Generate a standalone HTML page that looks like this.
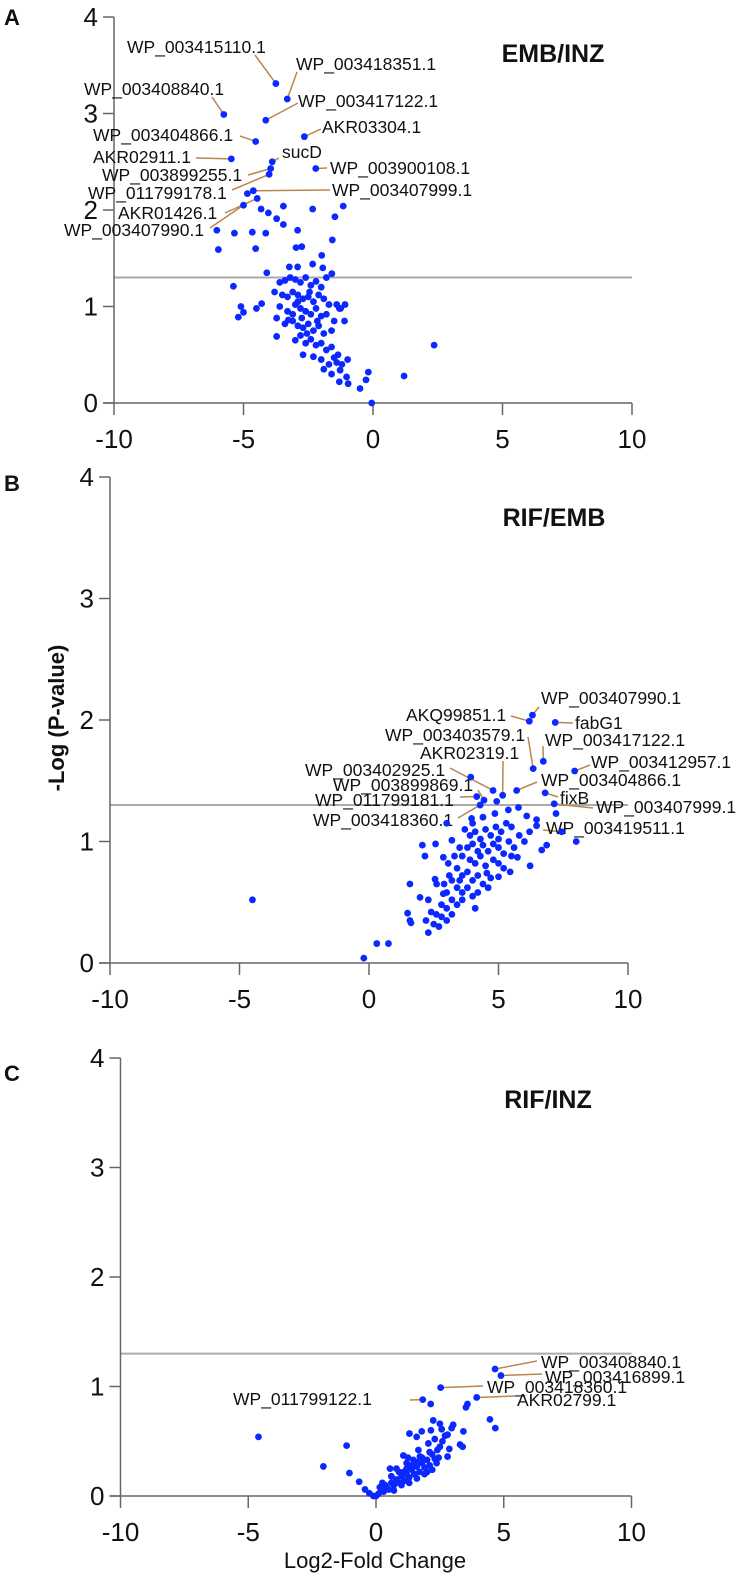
<!DOCTYPE html>
<html><head><meta charset="utf-8"><style>
html,body{margin:0;padding:0;background:#fff;}
svg{display:block;font-family:"Liberation Sans",Arial,sans-serif;}
</style></head><body>
<svg id="fig" width="741" height="1575" viewBox="0 0 741 1575" xmlns="http://www.w3.org/2000/svg"></svg>
<script>
// ---- data (log2 fold change, -log p) ----
const xTicks = [-10, -5, 0, 5, 10];
const yTicks = [0, 1, 2, 3, 4];
const threshold = 1.3;

const aX = [-3.75,-3.31,-5.76,-4.14,-4.53,-2.65,-5.47,-3.89,-2.21,-3.95,-4.62,-4.01,-4.47,-5.0,
 -4.85,-4.32,-4.04,-3.72,-3.46,-3.46,-2.33,-1.15,-1.47,-6.03,-5.35,-4.66,-4.14,-2.91,-5.97,-4.53,-2.97,-2.75,-1.57,-1.98,-2.33,-1.94,-3.23,-2.91,-1.59,-4.10,-5.39,-5.1,-5.0,-5.2,-4.5,-4.3,-3.72,-3.72,-3.27,
 -0.98,-1.27,-1.02,-0.96,-1.3,-0.50,-0.27,-0.18,-0.05,2.36,1.2,
 -3.6,-3.4,-3.2,-3.0,-2.8,-2.6,-2.4,-2.2,-2.0,-1.8,-3.8,-3.5,-3.3,-3.1,-2.9,-2.7,-2.5,-2.3,-2.1,-1.9,-1.7,-1.4,-1.3,-3.6,-3.3,-3.0,-2.8,-2.6,-2.4,-2.2,-2.0,-1.8,-1.5,-3.4,-3.1,-2.9,-2.7,-2.5,-2.3,-2.1,-1.9,-1.6,-3.0,-2.8,-2.6,-2.4,-2.2,-2.0,-1.8,-1.6,-2.7,-2.3,-2.0,-1.7,-1.5,-1.4,-1.9,-1.6,-2.9,-2.75,-2.45,-2.15,-3.1,-2.55,-1.35,-1.2,-1.08,-1.25,-1.1];
const aY = [3.31,3.15,2.99,2.93,2.71,2.76,2.53,2.50,2.43,2.43,2.20,2.37,2.12,2.05,
 2.17,2.01,1.97,1.91,2.04,1.85,2.01,2.04,1.93,1.79,1.76,1.77,1.76,1.79,1.59,1.60,1.61,1.62,1.69,1.53,1.44,1.40,1.41,1.41,1.34,1.35,1.21,1.0,0.94,0.89,0.98,1.03,0.88,0.69,0.86,
 0.45,0.34,0.27,0.20,0.22,0.15,0.24,0.32,0.0,0.60,0.28,
 1.25,1.27,1.30,1.28,1.25,1.30,1.22,1.26,1.20,1.30,1.15,1.12,1.10,1.15,1.12,1.08,1.10,1.05,1.12,1.08,1.02,1.02,0.98,1.0,0.95,1.02,0.98,0.95,0.92,0.98,0.90,0.92,0.85,0.82,0.85,0.80,0.78,0.82,0.75,0.80,0.72,0.75,0.65,0.70,0.62,0.66,0.60,0.62,0.55,0.58,0.50,0.48,0.45,0.40,0.47,0.42,0.35,0.30,1.05,0.88,1.15,0.85,0.92,0.72,0.50,0.40,1.02,0.98,0.85];
const aNames = ["WP_003415110.1","WP_003418351.1","WP_003408840.1","WP_003417122.1","WP_003404866.1","AKR03304.1","AKR02911.1","sucD","WP_003900108.1","WP_003899255.1","WP_003407999.1","WP_011799178.1","AKR01426.1","WP_003407990.1"];

const bX = [6.31,6.19,7.19,6.34,6.73,5.16,7.94,4.79,5.70,4.44,6.80,4.16,7.15,4.29,7.44,
 3.93,4.93,7.22,3.0,3.96,4.86,5.38,5.77,6.09,6.47,6.47,8.0,6.86,6.67,6.22,5.73,5.45,5.0,4.55,2.06,2.57,2.16,3.2,2.87,3.06,1.58,2.55,2.61,1.97,2.29,2.87,2.29,1.49,1.58,1.62,0.30,0.75,-0.2,-4.5,
 3.9,4.1,4.3,4.5,4.7,4.9,5.1,5.3,5.5,3.8,4.0,4.2,4.4,4.6,4.8,5.0,5.2,5.4,5.6,3.6,3.9,4.1,4.3,4.5,4.8,5.0,5.2,3.4,3.6,3.8,4.0,4.2,4.4,4.7,3.2,3.4,3.6,3.8,4.0,4.2,3.0,3.2,3.4,3.6,2.8,3.0,3.2,2.6,2.8,2.5,2.7,2.4,3.0,2.2,3.3,3.5,3.7,4.0,4.4,5.0,5.8,6.0,6.2,3.1,2.9,3.5,4.6,5.5,4.1];
const bY = [2.04,1.99,1.98,1.60,1.66,1.38,1.58,1.42,1.42,1.34,1.40,1.37,1.31,1.30,1.08,
 1.53,1.33,1.23,1.15,1.19,1.23,1.26,1.28,1.21,1.18,1.13,1.0,0.97,0.93,0.80,0.87,0.75,0.71,0.74,0.97,0.98,0.88,1.01,0.87,0.82,0.65,0.69,0.65,0.54,0.52,0.57,0.25,0.41,0.35,0.33,0.16,0.16,0.04,0.52,
 1.05,1.08,1.02,1.10,1.05,1.12,1.08,1.15,1.12,0.95,0.98,0.92,0.97,0.92,0.98,0.95,0.90,1.0,0.95,0.88,0.85,0.82,0.88,0.80,0.85,0.82,0.78,0.78,0.72,0.75,0.68,0.72,0.65,0.70,0.68,0.62,0.58,0.62,0.55,0.58,0.58,0.52,0.48,0.52,0.48,0.45,0.40,0.40,0.38,0.32,0.30,0.42,0.35,0.35,0.88,0.95,1.10,1.15,1.20,1.02,1.05,1.0,1.08,0.72,0.65,0.68,0.62,0.88,0.45];
const bNames = ["WP_003407990.1","AKQ99851.1","fabG1","WP_003403579.1","WP_003417122.1","AKR02319.1","WP_003412957.1","WP_003402925.1","WP_003404866.1","WP_003899869.1","fixB","WP_011799181.1","WP_003407999.1","WP_003418360.1","WP_003419511.1"];

const cX = [4.66,4.89,2.53,3.94,1.83,
 2.14,3.58,3.52,4.46,4.67,-4.6,-1.15,-2.06,-1.04,-0.66,-0.43,-0.26,-0.1,0.0,2.24,2.50,3.02,2.96,3.42,2.57,2.15,2.80,1.79,1.31,1.59,3.29,3.39,2.87,2.80,2.37,1.07,1.66,2.05,0.55,1.72,1.46,1.2,
 0.1,0.2,0.3,0.4,0.5,0.6,0.7,0.8,0.9,1.0,1.1,1.2,1.3,1.4,1.5,1.6,1.7,1.8,1.9,2.0,2.1,2.2,2.3,2.4,0.6,0.9,1.2,1.5,1.8,2.1,1.0,1.3,1.6,1.9,2.2,0.7,1.1,1.4,1.7,2.0,2.5,2.6,2.3,0.35,0.25,0.15,0.8,1.25,2.7,2.45];
const cY = [1.16,1.10,0.99,0.90,0.88,
 0.84,0.84,0.81,0.70,0.62,0.54,0.46,0.27,0.21,0.13,0.06,0.025,0.0,0.0,0.69,0.66,0.65,0.62,0.59,0.61,0.60,0.56,0.59,0.57,0.54,0.47,0.45,0.43,0.36,0.30,0.37,0.42,0.48,0.25,0.36,0.33,0.30,
 0.02,0.05,0.04,0.08,0.06,0.12,0.10,0.15,0.12,0.18,0.14,0.20,0.17,0.24,0.20,0.27,0.22,0.30,0.26,0.33,0.28,0.38,0.34,0.42,0.18,0.22,0.25,0.30,0.35,0.40,0.10,0.12,0.16,0.20,0.24,0.05,0.22,0.28,0.32,0.22,0.45,0.50,0.52,0.10,0.12,0.08,0.25,0.35,0.55,0.35];
const cNames = ["WP_003408840.1","WP_003416899.1","WP_003418360.1","AKR02799.1","WP_011799122.1"];

// ---- layout ----
const NS = "http://www.w3.org/2000/svg";
const svg = document.getElementById('fig');
function mk(tag, attrs, parent, text){
  const e = document.createElementNS(NS, tag);
  for (const k in attrs) e.setAttribute(k, attrs[k]);
  if (text !== undefined) e.textContent = text;
  (parent || svg).appendChild(e);
  return e;
}
const panels = [
  {id:'a', letter:'A', letterY:17, title:'EMB/INZ', titleX:553, titleY:53, x0:373, sx:25.9, y0:403, sy:96.5, xs:aX, ys:aY, names:aNames,
   lab:[[127,47,255,55],[296,64,297,72],[84,89,212,97],[298,101,298,103],[93,135,240,136],[322,127,321,129],[93,157,196,158],[282,152,279,158],[330,168,327,168],[102,175,248,175],[332,190,330,190],[88,193,232,190],[118,213,225,213],[64,230,210,228]]},
  {id:'b', letter:'B', letterY:483, title:'RIF/EMB', titleX:554, titleY:517, x0:369, sx:25.9, y0:963, sy:121.5, xs:bX, ys:bY, names:bNames,
   lab:[[541,698,539,707],[406,715,511,716],[575,723,573,723],[385,735,528,737],[545,740,543,746],[420,753,503,761],[591,762,590,765],[305,770,450,768],[541,780,537,782],[333,785,478,790],[560,798,558,797],[315,800,460,797],[596,807,593,808],[313,820,458,818],[546,828,543,830]]},
  {id:'c', letter:'C', letterY:1073, title:'RIF/INZ', titleX:548, titleY:1099, x0:376, sx:25.55, y0:1496, sy:109.5, xs:cX, ys:cY, names:cNames,
   lab:[[541,1362,537,1361],[545,1377,542,1374],[487,1387,483,1386],[517,1400,515,1396],[233,1399,410,1400]]}
];

panels.forEach(p => {
  const X = v => p.x0 + v * p.sx;
  const Y = v => p.y0 - v * p.sy;
  const g = mk('g', {});
  
  

  const lt = mk('text', {x:4, y:p.letterY+8, 'font-size':22, 'font-weight':'bold', fill:'#111'}, g, p.letter);
  
  

  const tt = mk('text', {x:p.titleX, y:p.titleY+9, 'font-size':25, 'font-weight':'bold', 'text-anchor':'middle', fill:'#111'}, g, p.title);
  
  

  // threshold line
  const th = mk('line', {x1:X(-10), x2:X(10), y1:Y(threshold), y2:Y(threshold), stroke:'#aaa', 'stroke-width':2}, g);
  
  

  // axes
  const ya = mk('line', {x1:X(-10), x2:X(-10), y1:Y(4), y2:Y(0), stroke:'#666', 'stroke-width':1.5}, g);
  
  
  const xa = mk('line', {x1:X(-10)-11, x2:X(10), y1:Y(0), y2:Y(0), stroke:'#666', 'stroke-width':1.5}, g);
  
  

  yTicks.forEach(t => {
    mk('line', {x1:X(-10)-11, x2:X(-10), y1:Y(t), y2:Y(t), stroke:'#666', 'stroke-width':1.5}, g);
    const tl = mk('text', {x:X(-10)-16, y:Y(t)+9, 'font-size':26, 'text-anchor':'end', fill:'#111'}, g, String(t));
    
    
  });
  xTicks.forEach(t => {
    mk('line', {x1:X(t), x2:X(t), y1:Y(0), y2:Y(0)+12, stroke:'#666', 'stroke-width':1.5}, g);
    const tl = mk('text', {x:X(t), y:Y(0)+45, 'font-size':26, 'text-anchor':'middle', fill:'#111'}, g, String(t));
    
    
  });

  // leader lines + labels
  p.lab.forEach((L, i) => {
    const ln = mk('line', {x1:L[2], y1:L[3], x2:X(p.xs[i]), y2:Y(p.ys[i]), stroke:'#b8864e', 'stroke-width':1.5}, g);
    
    
    const tx = mk('text', {x:L[0], y:L[1]+6, 'font-size':17.5, fill:'#111'}, g, p.names[i]);
    
    
  });

  // points
  p.xs.forEach((v, i) => {
    const c = mk('circle', {cx:X(v), cy:Y(p.ys[i]), r:3.4, fill:'#0a28ff'}, g);
    
    
  });
});

const yt = mk('text', {x:0, y:0, 'font-size':22, 'font-weight':'bold', 'text-anchor':'middle', fill:'#111', transform:'translate(64,718) rotate(-90)'}, svg, '-Log (P-value)');


const xt = mk('text', {x:375, y:1568, 'font-size':22, 'text-anchor':'middle', fill:'#111'}, svg, 'Log2-Fold Change');


</script>
</body></html>
